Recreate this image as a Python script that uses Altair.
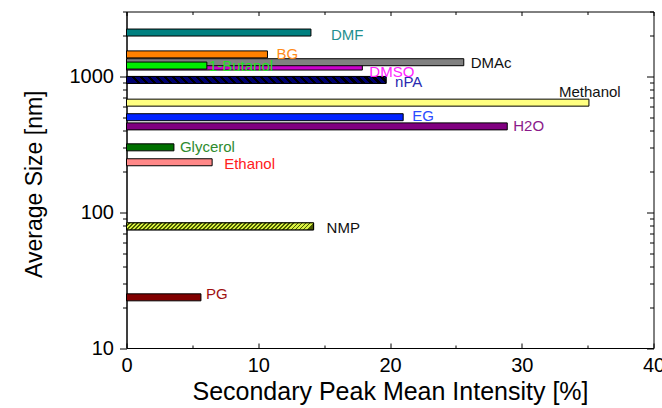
import altair as alt
import pandas as pd

# Solvents in drawing order (DMSO sits under DMAc, 1-Butanol on top of both)
solvents = ["DMSO", "DMAc", "1-Butanol", "DMF", "BG", "nPA", "Methanol",
            "EG", "H2O", "Glycerol", "Ethanol", "NMP", "PG"]
avg_size_nm = [1180, 1270, 1200, 2100, 1450, 940, 640, 500, 428, 300, 233, 78.6, 23.6]
peak_intensity = [17.9, 25.6, 6.1, 14.0, 10.7, 19.7, 35.1, 21.0, 28.9, 3.6, 6.5, 14.2, 5.65]

bar_colors = ["#cc00cc", "#808080", "#00ee00", "#008080", "#ff8000", "#000070",
              "#ffff80", "#0022ff", "#800080", "#007000", "#ff8888", "#d8f040", "#800000"]
label_colors = ["#ff22ff", "#111111", "#22e022", "#1f8f8f", "#ff8c1a", "#2a2ab0",
                "#111111", "#2a4bff", "#8b1a8b", "#2e8b2e", "#ff2020", "#111111", "#a01010"]
# label placement: gap after the bar end and vertical shift, in pixels
label_gap = [7, 7, 2, 20, 9, 9, -30, 9, 6, 6, 12, 13, 5]
label_dy = [5, 1, 0, 2, 0, 2, -11, -1, 0, 0, 2, 2, -3]

# hatched bars: (solvent, base colour, line colour, period px, line fraction, rising)
hatched = [("nPA", "#000070", "#000000", 8.0, 0.4, False),
           ("NMP", "#d8f040", "#4a5a00", 4.0, 0.4, True)]

x_ticks = [0, 5, 10, 15, 20, 25, 30, 35, 40]
x_labels = [0, 10, 20, 30, 40]
y_ticks = [10, 20, 30, 40, 50, 60, 70, 80, 90, 100, 200, 300, 400, 500, 600,
           700, 800, 900, 1000, 2000, 3000]
y_labels = [10, 100, 1000]

W, H = 527, 336.5
BAR_H = 7
FONT = "Liberation Sans"

df = pd.DataFrame({"solvent": solvents, "size": avg_size_nm, "intensity": peak_intensity})

xs = alt.Scale(domain=[0, 40], nice=False, zero=True, padding=0)
ys = alt.Scale(type="log", domain=[10, 3000], nice=False, padding=0)

X_MAJOR = "datum.value % 10 === 0"
Y_MAJOR = "indexof([10, 100, 1000], datum.value) >= 0"


def tick_axis(orient, offset, values, test, major, minor):
    return alt.Axis(orient=orient, offset=offset, values=values, labels=False,
                    domain=False, grid=False, title=None, tickColor="black",
                    tickWidth=1, zindex=2,
                    tickSize={"condition": {"test": test, "value": major}, "value": minor})


bars = alt.Chart(df).mark_bar(orient="horizontal", size=BAR_H, stroke="black",
                              strokeWidth=1).encode(
    x=alt.X("intensity:Q", scale=xs,
            axis=alt.Axis(orient="bottom", values=x_labels, ticks=False, labelFlush=False,
                          labelPadding=7, labelFontSize=20, labelColor="black",
                          domainColor="black", grid=False,
                          title="Secondary Peak Mean Intensity [%]", titleFontSize=25,
                          titleFontWeight="normal", titleColor="black",
                          titleBaseline="alphabetic", titleY=51)),
    y=alt.Y("size:Q", scale=ys,
            axis=alt.Axis(orient="left", values=y_labels, format="d", ticks=False,
                          labelFlush=False, labelPadding=13, labelFontSize=20,
                          labelColor="black", domainColor="black", grid=False,
                          title="Average Size [nm]", titleFontSize=23,
                          titleFontWeight="normal", titleColor="black",
                          titleX=-80, titleY=H / 2 + 4)),
    fill=alt.Fill("solvent:N", scale=alt.Scale(domain=solvents, range=bar_colors),
                  legend=None),
)


def hatch_fill(base, line, w_px, period, frac, rising):
    r = BAR_H / w_px
    p = period / w_px
    stops = []
    k = 0
    while k * p < 1:
        a = k * p
        b = min(a + (1 - frac) * p, 1)
        c = min((k + 1) * p, 1)
        stops += [{"offset": a, "color": base}, {"offset": b, "color": base},
                  {"offset": b, "color": line}, {"offset": c, "color": line}]
        k += 1
    if rising:
        coords = {"x1": 0, "y1": 0, "x2": 1, "y2": r}
    else:
        coords = {"x1": 0, "y1": r, "x2": 1, "y2": 0}
    return {"gradient": "linear", "stops": stops, **coords}


hatch_layers = []
for name, base, line, period, frac, rising in hatched:
    val = peak_intensity[solvents.index(name)]
    w_px = val * W / 40
    hatch_layers.append(
        alt.Chart(df).transform_filter(alt.datum.solvent == name).mark_bar(
            orient="horizontal", size=BAR_H, stroke="black", strokeWidth=1,
            fill=hatch_fill(base, line, w_px, period, frac, rising)).encode(
            x=alt.X("intensity:Q", scale=xs, axis=None),
            y=alt.Y("size:Q", scale=ys, axis=None)))

text_layers = []
for name, col, gap, dy in zip(solvents, label_colors, label_gap, label_dy):
    text_layers.append(
        alt.Chart(df).transform_filter(alt.datum.solvent == name).mark_text(
            align="left", baseline="middle", dx=gap, dy=dy, fontSize=15,
            color=col, font=FONT).encode(
            x=alt.X("intensity:Q", scale=xs, axis=None),
            y=alt.Y("size:Q", scale=ys, axis=None),
            text="solvent:N"))

# frame ticks: outward on the left, inward on the other three sides
ghost = alt.Chart(df).mark_point(opacity=0)
ticks_left = ghost.encode(
    x=alt.X("intensity:Q", scale=xs, axis=None),
    y=alt.Y("size:Q", scale=ys, axis=tick_axis("left", 0, y_ticks, Y_MAJOR, 7, 4)))
ticks_right = ghost.encode(
    x=alt.X("intensity:Q", scale=xs, axis=None),
    y=alt.Y("size:Q", scale=ys, axis=tick_axis("left", -W, y_ticks, Y_MAJOR, 7, 4)))
ticks_bottom = ghost.encode(
    x=alt.X("intensity:Q", scale=xs, axis=tick_axis("top", -H, x_ticks, X_MAJOR, 5, 3)),
    y=alt.Y("size:Q", scale=ys, axis=None))
ticks_top = ghost.encode(
    x=alt.X("intensity:Q", scale=xs, axis=tick_axis("bottom", -H, x_ticks, X_MAJOR, 4, 3)),
    y=alt.Y("size:Q", scale=ys, axis=None))

chart = alt.layer(
    bars, *hatch_layers, *text_layers, ticks_left, ticks_right, ticks_bottom, ticks_top
).resolve_axis(x="independent", y="independent").properties(
    width=W, height=H, autosize="none",
    padding={"left": 126.5, "top": 11.5, "right": 8.5, "bottom": 60},
    background="white",
).configure(font=FONT).configure_view(stroke="black", strokeWidth=1)

chart.save("out.html", embed_options={"renderer": "svg", "actions": False})
